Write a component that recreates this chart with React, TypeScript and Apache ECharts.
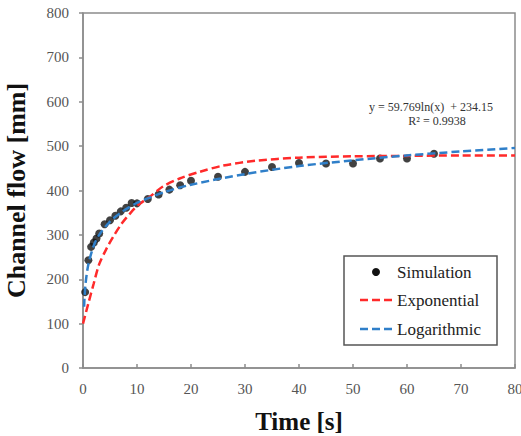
import React, { useEffect, useRef } from "react";
import * as echarts from "echarts";

const simX = [0.4, 1, 1.5, 2, 2.5, 3, 4, 5, 6, 7, 8, 9, 10, 12, 14, 16, 18, 20, 25, 30, 35, 40, 45, 50, 55, 60, 65];
const simY = [171, 243, 273, 283, 292, 303, 324, 333, 343, 353, 361, 372, 371, 381, 391, 402, 412, 422, 431, 442, 453, 462, 461, 461, 472, 472, 483];

const expX = [0, 1, 2, 3, 4.4, 5.6, 7.2, 8.7, 10.2, 12.4, 14.8, 17.9, 21.6, 25.9, 32, 40, 50, 60, 70, 80];
const expY = [100, 146, 191, 234, 270, 296, 326, 348, 367, 386, 409, 427, 442, 456, 467, 474, 477, 478, 479, 479];

const logX = [0.2, 0.3, 0.5, 1, 2, 3, 5, 7, 10, 15, 20, 30, 40, 50, 60, 70, 80];
const logY = [138, 162, 193, 234, 276, 300, 330, 350, 372, 396, 413, 437, 455, 468, 479, 488, 496];

const seriesNames = ["Simulation", "Exponential", "Logarithmic"];
const equationText = "y = 59.769ln(x)  + 234.15";
const r2Text = "R² = 0.9938";

const FONT = "Liberation Serif";
const RED = "#ff2a2a";
const BLUE = "#2f7fc9";

export default function App() {
  const ref = useRef<HTMLDivElement>(null);
  useEffect(() => {
    if (!ref.current) return;
    const chart = echarts.init(ref.current, null, { renderer: "svg" });
    const zip = (xs: number[], ys: number[]) => xs.map((x, i) => [x, ys[i]]);

    // legend box (drawn as graphic)
    const lgLeft = 344, lgTop = 256, lgW = 153, lgH = 89;
    const rowY = [272, 300, 329];
    const iconX0 = 360, iconX1 = 392, textX = 397;
    const legendGraphics: any[] = [
      {
        type: "rect",
        shape: { x: lgLeft, y: lgTop, width: lgW, height: lgH },
        style: { fill: "#ffffff", stroke: "#555555", lineWidth: 1.5 },
        z: 100,
      },
      {
        type: "circle",
        shape: { cx: (iconX0 + iconX1) / 2, cy: rowY[0], r: 4 },
        style: { fill: "#111111" },
        z: 101,
      },
      {
        type: "line",
        shape: { x1: iconX0, y1: rowY[1], x2: iconX1, y2: rowY[1] },
        style: { stroke: RED, lineWidth: 2.5, lineDash: [8, 4] },
        z: 101,
      },
      {
        type: "line",
        shape: { x1: iconX0, y1: rowY[2], x2: iconX1, y2: rowY[2] },
        style: { stroke: BLUE, lineWidth: 2.5, lineDash: [8, 4] },
        z: 101,
      },
      ...seriesNames.map((n, i) => ({
        type: "text",
        x: textX,
        y: rowY[i],
        style: {
          text: n,
          fontFamily: FONT,
          fontSize: 17,
          fill: "#222222",
          textAlign: "left",
          textVerticalAlign: "middle",
        },
        z: 101,
      })),
    ];

    chart.setOption({
      animation: false,
      backgroundColor: "#ffffff",
      textStyle: { fontFamily: FONT },
      grid: {
        left: 83,
        right: 6,
        top: 13,
        bottom: 68,
        show: true,
        borderColor: "#8c8c8c",
        borderWidth: 1.5,
        containLabel: false,
        outerBoundsMode: "none",
      },
      xAxis: {
        type: "value",
        min: 0,
        max: 80,
        interval: 10,
        name: "Time [s]",
        nameLocation: "middle",
        nameGap: 41,
        nameTextStyle: { fontFamily: FONT, fontSize: 25, fontWeight: "bold", color: "#111111" },
        axisLine: { show: true, lineStyle: { color: "#8c8c8c", width: 1.5 } },
        axisTick: { show: true, inside: true, length: 4, lineStyle: { color: "#8c8c8c", width: 1.5 } },
        axisLabel: { fontFamily: FONT, fontSize: 15, color: "#555555", margin: 13 },
        splitLine: { show: false },
      },
      yAxis: {
        type: "value",
        min: 0,
        max: 800,
        interval: 100,
        name: "Channel flow [mm]",
        nameLocation: "middle",
        nameGap: 54,
        nameTextStyle: { fontFamily: FONT, fontSize: 26, fontWeight: "bold", color: "#111111" },
        axisLine: { show: true, lineStyle: { color: "#8c8c8c", width: 1.5 } },
        axisTick: { show: true, inside: false, length: 4, lineStyle: { color: "#8c8c8c", width: 1.5 } },
        axisLabel: { fontFamily: FONT, fontSize: 15, color: "#555555", margin: 14 },
        splitLine: { show: false },
      },
      series: [
        {
          name: seriesNames[0],
          type: "scatter",
          data: zip(simX, simY),
          symbol: "circle",
          symbolSize: 8,
          itemStyle: { color: "#111111" },
          z: 2,
        },
        {
          name: seriesNames[1],
          type: "line",
          data: zip(expX, expY),
          smooth: 0.3,
          showSymbol: false,
          symbol: "none",
          lineStyle: { color: RED, width: 2.5, type: [8, 4] },
          itemStyle: { color: RED },
          z: 3,
        },
        {
          name: seriesNames[2],
          type: "line",
          data: zip(logX, logY),
          smooth: 0.3,
          showSymbol: false,
          symbol: "none",
          lineStyle: { color: BLUE, width: 2.5, type: [8, 4] },
          itemStyle: { color: BLUE },
          z: 4,
        },
      ],
      graphic: [
        {
          type: "text",
          x: 431,
          y: 107,
          style: {
            text: equationText,
            fontFamily: FONT,
            fontSize: 12,
            fill: "#333333",
            textAlign: "center",
            textVerticalAlign: "middle",
          },
        },
        {
          type: "text",
          x: 437,
          y: 121,
          style: {
            text: r2Text,
            fontFamily: FONT,
            fontSize: 12,
            fill: "#333333",
            textAlign: "center",
            textVerticalAlign: "middle",
          },
        },
        ...legendGraphics,
      ],
    });
    return () => chart.dispose();
  }, []);
  return (
    <div
      ref={ref}
      style={{ position: "absolute", left: 0, top: 0, width: 521, height: 436, background: "#fff" }}
    />
  );
}
